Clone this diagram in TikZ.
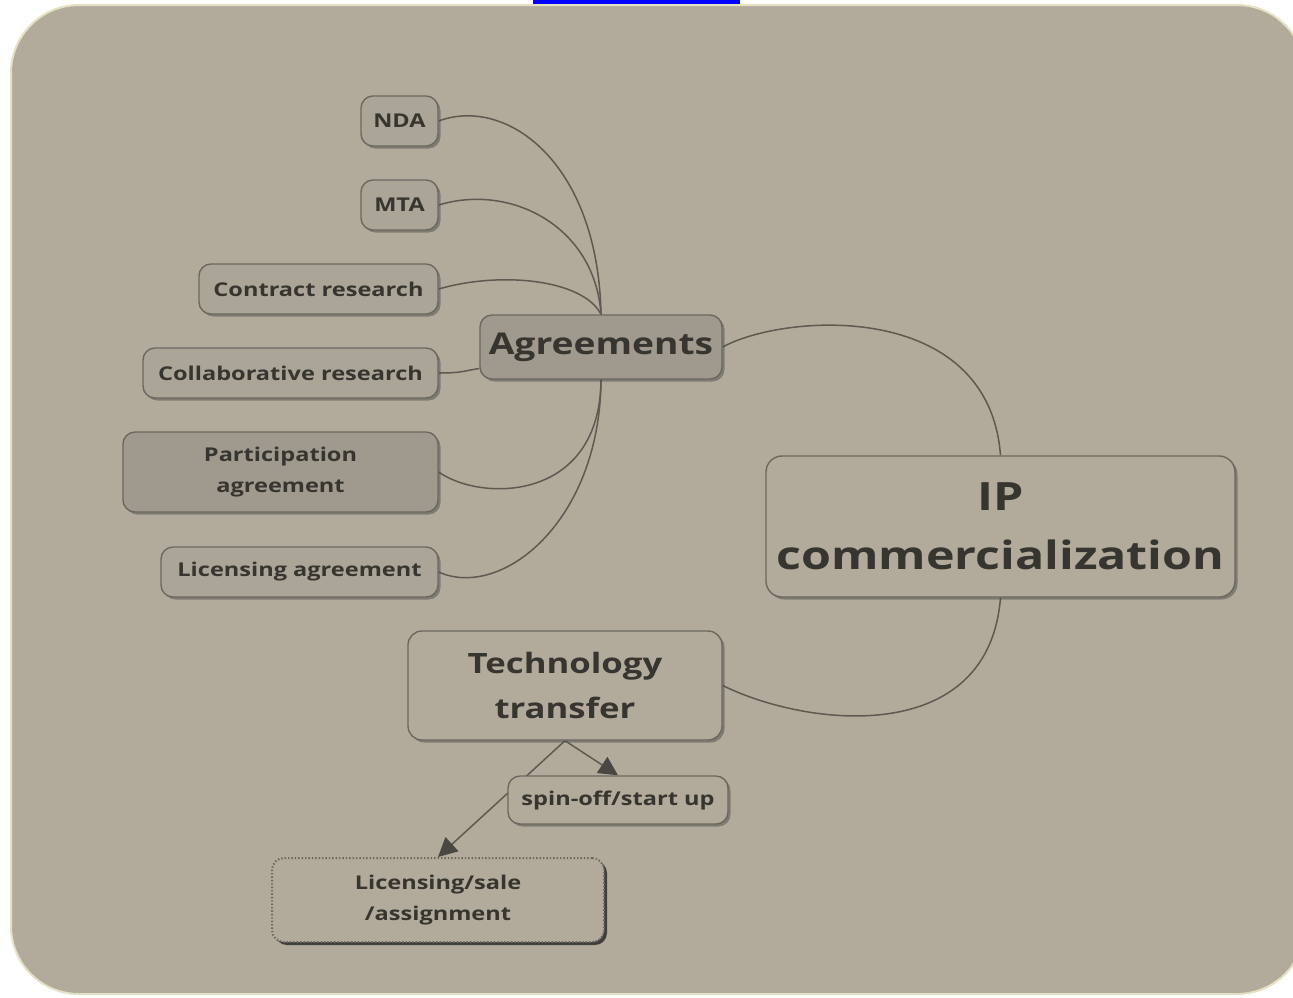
\documentclass[tikz,border=0pt]{standalone}
\usepackage{fontspec}
\setmainfont{Open Sans}[FakeStretch=1.24]
\usetikzlibrary{arrows.meta,shadows}
\definecolor{pagebg}{HTML}{B2AB9C}
\definecolor{pageedge}{HTML}{E4E0C2}
\definecolor{nodefill}{HTML}{ABA598}
\definecolor{nodedark}{HTML}{9F9A8D}
\definecolor{nodeline}{HTML}{6C685F}
\definecolor{textc}{HTML}{37352F}
\definecolor{linec}{HTML}{5E5A52}
\definecolor{arrowc}{HTML}{4A4742}
\definecolor{linkblue}{HTML}{0000FF}
\pgfdeclarelayer{back}
\pgfdeclarelayer{edges}
\pgfsetlayers{back,edges,main}
\tikzset{
  box/.style={draw=nodeline, line width=1.4pt, rounded corners=12pt, fill=nodefill,
    text=textc, font=\bfseries, align=center, inner sep=0pt,
    drop shadow={shadow xshift=2.5pt, shadow yshift=-2.5pt, opacity=0.5, fill=black!70}},
  smallbox/.style={box, font=\bfseries\fontsize{19}{30.5}\selectfont},
  darkbox/.style={smallbox, fill=nodedark},
  link/.style={draw=linec, line width=1.5pt},
  arr/.style={draw=linec, line width=1.5pt, -{Triangle[length=19pt,width=19pt,color=arrowc,fill=arrowc]}},
}
\begin{document}
\begin{tikzpicture}[x=1pt,y=-1pt]
\useasboundingbox (0,0) rectangle (1293,997);
\begin{pgfonlayer}{back}
  \fill[white] (0,0) rectangle (1293,997);
  \draw[pageedge, line width=2pt, fill=pagebg, rounded corners=68pt] (11,5) rectangle (1305,994);
  \fill[linkblue] (533,0) rectangle (740,4);
\end{pgfonlayer}

\node[smallbox, minimum width=77pt, minimum height=50pt] (nda) at (399.5,121) {NDA};
\node[smallbox, minimum width=77pt, minimum height=50pt] (mta) at (399.5,205) {MTA};
\node[smallbox, minimum width=239pt, minimum height=50pt] (contract) at (318.5,289) {Contract research};
\node[smallbox, minimum width=295pt, minimum height=50pt] (collab) at (290.5,373) {Collaborative research};
\node[darkbox, minimum width=315pt, minimum height=80pt] (partic) at (280.5,472) {Participation\\agreement};
\node[smallbox, minimum width=277pt, minimum height=50pt] (licagr) at (299.5,572) {Licensing agreement};
\node[box, fill=nodedark, minimum width=242pt, minimum height=64pt, font=\bfseries\fontsize{30}{36}\selectfont] (agr) at (601,347) {Agreements};
\node[box, fill=pagebg, minimum width=469pt, minimum height=141pt, rounded corners=16pt, font=\bfseries\fontsize{39}{59}\selectfont] (ip) at (1000.5,526.5) {IP\\commercialization};
\node[box, fill=pagebg, minimum width=314pt, minimum height=109pt, rounded corners=14pt, font=\bfseries\fontsize{28}{45}\selectfont] (tech) at (565,685.5) {Technology\\transfer};
\node[smallbox, fill=pagebg, minimum width=220pt, minimum height=48pt] (spin) at (618,800) {spin-off/start up};
\node[smallbox, fill=pagebg, dotted, line width=2pt, minimum width=332pt, minimum height=84pt,
  drop shadow={shadow xshift=3pt, shadow yshift=-3pt, opacity=0.85, fill=black!80}] (lic) at (438,900) {Licensing/sale\\/assignment};

\coordinate (ts) at (tech.south);
\begin{pgfonlayer}{edges}
  \draw[link] (nda.east) .. controls +(67,-25) and +(-3,-153) .. (agr.north);
  \draw[link] (mta.east) .. controls +(72,-22) and +(-6,-88) .. (agr.north);
  \draw[link] (contract.east) .. controls +(62,-18) and +(-18,-35) .. (agr.north);
  \draw[link] (collab.east) .. controls +(22,0) and +(-18,3) .. (agr.190);
  \draw[link] (partic.east) .. controls +(42,30) and +(-1,123) .. (agr.south);
  \draw[link] (licagr.east) .. controls +(62,28) and +(-1,143) .. (agr.south);
  \draw[link] (agr.east) .. controls +(62,-34) and +(-12,-156) .. (ip.north);
  \draw[link] (ip.south) .. controls +(-12,150) and +(85,42) .. (tech.east);
  \draw[arr] (ts) -- (spin.north);
  \draw[arr] (ts) -- (lic.north);
\end{pgfonlayer}
\end{tikzpicture}
\end{document}
